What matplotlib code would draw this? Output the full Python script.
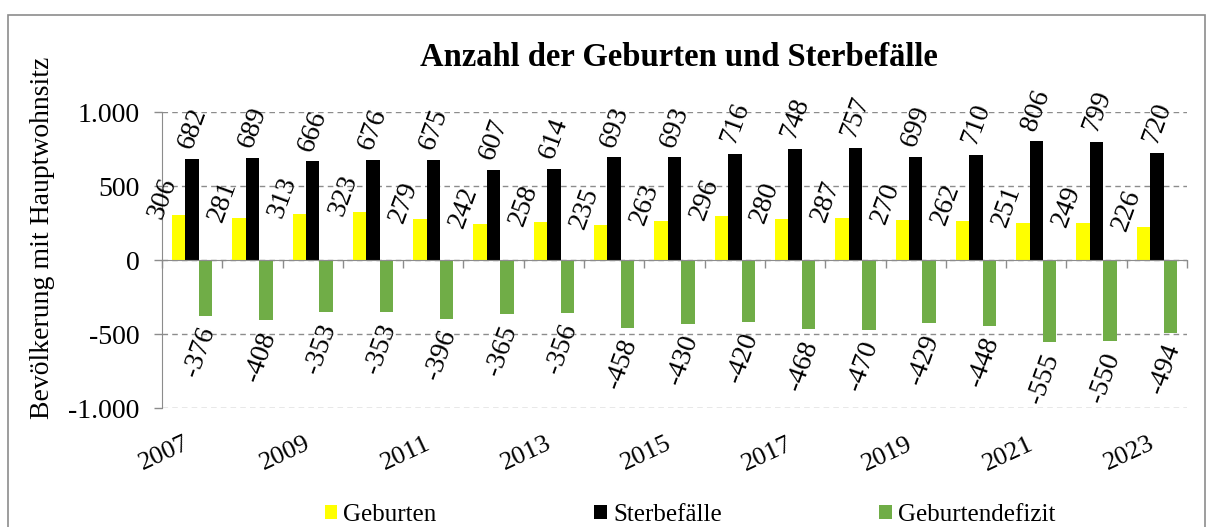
import numpy as np
import matplotlib
matplotlib.use("Agg")
import matplotlib.pyplot as plt
from matplotlib.patches import Rectangle
from matplotlib.transforms import ScaledTranslation

plt.rcParams['font.family'] = ['Liberation Serif', 'DejaVu Serif']

years = [2007, 2008, 2009, 2010, 2011, 2012, 2013, 2014, 2015, 2016,
         2017, 2018, 2019, 2020, 2021, 2022, 2023]
geburten = [306, 281, 313, 323, 279, 242, 258, 235, 263, 296,
            280, 287, 270, 262, 251, 249, 226]
sterbefaelle = [682, 689, 666, 676, 675, 607, 614, 693, 693, 716,
                748, 757, 699, 710, 806, 799, 720]
defizit = [-376, -408, -353, -353, -396, -365, -356, -458, -430, -420,
           -468, -470, -429, -448, -555, -550, -494]
series_names = ["Geburten", "Sterbefälle", "Geburtendefizit"]
colors = ["#FFFF00", "#000000", "#70AD47"]
yticks = [-1000, -500, 0, 500, 1000]
ytick_labels = ["-1.000", "-500", "0", "500", "1.000"]
title = "Anzahl der Geburten und Sterbefälle"
ylabel = "Bevölkerung mit Hauptwohnsitz"

W, H = 1213, 527
fig = plt.figure(figsize=(W / 100, H / 100), dpi=100)
ax = fig.add_axes([162 / W, 1 - 408 / H, (1187 - 162) / W, (408 - 112) / H])

x = np.arange(len(years))
bw = 0.223
offs = [-bw, 0.0, bw]
data = [geburten, sterbefaelle, defizit]
bars = []
for vals, off, c, name in zip(data, offs, colors, series_names):
    b = ax.bar(x + off, vals, width=bw, color=c, label=name, zorder=3,
               edgecolor='none')
    bars.append(b)

lab_fs = 20
rot = 70
for xi, v in zip(x, geburten):
    ax.annotate(str(v), (xi + offs[0], v), xytext=(-17, -2),
                textcoords='offset points', rotation=rot, rotation_mode='anchor',
                ha='left', va='center', fontsize=lab_fs, zorder=5)
for xi, v in zip(x, sterbefaelle):
    ax.annotate(str(v), (xi + offs[1], v), xytext=(-5, 8),
                textcoords='offset points', rotation=rot, rotation_mode='anchor',
                ha='left', va='center', fontsize=lab_fs, zorder=5)
for xi, v in zip(x, defizit):
    ax.annotate(str(v), (xi + offs[2], v), xytext=(2, -9),
                textcoords='offset points', rotation=rot, rotation_mode='anchor',
                ha='right', va='center', fontsize=lab_fs, zorder=5)

ax.set_xlim(-0.5, len(years) - 0.5)
ax.set_ylim(-1000, 1000)
ax.set_yticks(yticks)
ax.set_yticklabels(ytick_labels, fontsize=20)
ax.tick_params(axis='y', direction='out', length=6, width=1, color='#8c8c8c', pad=10)

ax.yaxis.grid(True, linestyle=(0, (4, 3)), color='#8c8c8c', linewidth=1, zorder=0)
ax.set_axisbelow(True)

for s in ['top', 'right']:
    ax.spines[s].set_visible(False)
ax.spines['left'].set_color('#8c8c8c')
ax.spines['bottom'].set_position(('data', 0))
ax.spines['bottom'].set_color('#8c8c8c')
ax.spines['bottom'].set_zorder(4)

ax.set_xticks(np.arange(-0.5, len(years), 1.0))
ax.tick_params(axis='x', direction='out', length=6, width=1, color='#8c8c8c',
               labelbottom=False)

sec = ax.secondary_xaxis('bottom')
sec.set_xticks(x[::2])
sec.set_xticklabels([str(y) for y in years[::2]], fontsize=19)
sec.tick_params(axis='x', length=0, pad=25)
sec.spines['bottom'].set_visible(False)
shift = ScaledTranslation(-4 / 100, 0, fig.dpi_scale_trans)
for t in sec.get_xticklabels():
    t.set_rotation(25)
    t.set_ha('right')
    t.set_va('center')
    t.set_rotation_mode('anchor')
    t.set_transform(t.get_transform() + shift)

fig.text(679 / W, 1 - 66 / H, title, ha='center', va='baseline',
         fontsize=23.5, fontweight='bold')
fig.text(43 / W, 1 - 238 / H, ylabel, rotation=90, ha='center', va='center',
         fontsize=20)

leg = fig.legend(handles=bars, labels=series_names, loc='center',
                 bbox_to_anchor=(690 / W, 1 - 515 / H), ncol=3, frameon=False,
                 fontsize=18, handlelength=0.5, handleheight=0.5,
                 handletextpad=0.25, columnspacing=6.3, borderpad=0)

fig.patches.append(Rectangle((8 / W, -0.05), (1205 - 8) / W, 1.05 - 15 / H,
                             transform=fig.transFigure, fill=False,
                             edgecolor='#8c8c8c', linewidth=1.2))

fig.savefig('out.png', dpi=100)
